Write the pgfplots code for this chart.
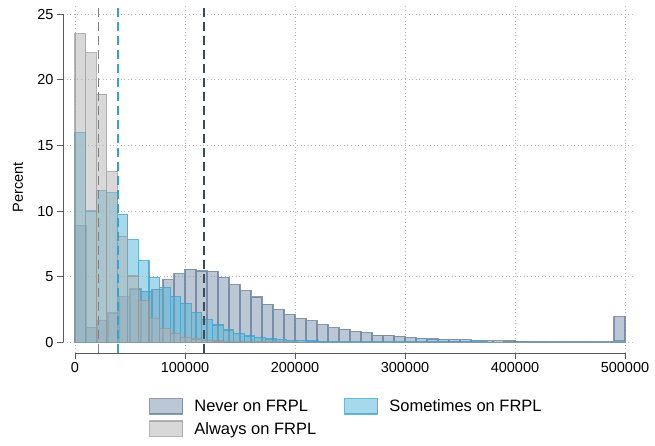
\documentclass[border=0pt]{standalone}
\usepackage{pgfplots}
\pgfplotsset{compat=1.18}
\usepackage{fontspec}
\setmainfont{Liberation Sans}
\definecolor{nevf}{RGB}{122,144,172}
\definecolor{nevd}{RGB}{100,122,150}
\definecolor{somf}{RGB}{78,180,216}
\definecolor{somd}{RGB}{55,160,205}
\definecolor{alwf}{RGB}{178,178,178}
\definecolor{alwd}{RGB}{150,150,150}
\definecolor{axc}{RGB}{90,90,90}
\begin{document}
\begin{tikzpicture}[x=1pt,y=1pt]
\useasboundingbox (0,0) rectangle (655,445);
\begin{axis}[
  at={(63pt,92pt)}, anchor=south west,
  scale only axis, width=572pt, height=349pt,
  xmin=-10909, xmax=509091, ymin=-0.815, ymax=25.77,
  axis line style={draw=none},
  xtick={0,100000,200000,300000,400000,500000},
  ytick={0,5,10,15,20,25},
  tick pos=left, tick align=outside, major tick length=6pt,
  tick style={axc, line width=0.8pt},
  grid=major, grid style={dash pattern=on 1pt off 2.6pt, black!28, line width=0.9pt},
  scaled x ticks=false,
  xticklabel style={/pgf/number format/.cd, fixed, 1000 sep={}},
  /pgf/number format/assume math mode=true,
  ticklabel style={font=\fontsize{14.5}{17}\selectfont},
  ylabel={Percent},
  ylabel style={at={(axis description cs:-0.0787,0.475)}, anchor=center, font=\fontsize{14.5}{17}\selectfont},
  clip=false,
  legend columns=2,
  legend cell align=left,
  legend style={at={(axis description cs:0.4956,-0.122)}, anchor=north, draw=none, fill=none,
    font=\fontsize{16.5}{19}\selectfont, row sep=5pt,
    /tikz/every odd column/.append style={column sep=9pt},
    /tikz/every even column/.append style={column sep=26pt}},
  legend image code/.code={\draw[#1] (0pt,-7.5pt) rectangle (33pt,8pt);},
]
\addplot[ybar interval, fill=nevf, fill opacity=0.5, draw=nevd, draw opacity=0.75, line width=1.1pt] table {
x y
0 8.9
10000 1.14
20000 1.65
30000 2.23
40000 3.47
50000 4.06
60000 3.9
70000 4.03
80000 4.75
90000 5.22
100000 5.58
110000 5.43
120000 5.4
130000 4.95
140000 4.37
150000 3.93
160000 3.45
170000 2.89
180000 2.51
190000 2.13
200000 1.83
210000 1.64
220000 1.33
230000 1.12
240000 0.99
250000 0.84
260000 0.74
270000 0.55
280000 0.55
290000 0.45
300000 0.38
310000 0.30
320000 0.25
330000 0.23
340000 0.22
350000 0.18
360000 0.15
370000 0.13
380000 0.11
390000 0.10
400000 0.09
410000 0.08
420000 0.07
430000 0.06
440000 0.06
450000 0.05
460000 0.05
470000 0.04
480000 0.04
490000 1.95
500000 1.95
};
\addlegendentry{Never on FRPL}
\addplot[ybar interval, fill=somf, fill opacity=0.5, draw=somd, draw opacity=0.75, line width=1.1pt] table {
x y
0 16.0
9615 10.0
19231 11.55
28846 11.4
38462 9.75
48077 7.8
57692 6.2
67308 4.92
76923 4.19
86538 3.48
96154 2.97
105769 2.28
115385 1.75
125000 1.32
134615 0.94
144231 0.69
153846 0.48
163462 0.38
173077 0.25
182692 0.18
192308 0.15
201923 0.12
211538 0.10
221154 0.09
230769 0.08
240385 0.07
250000 0.06
259615 0.05
269231 0.05
278846 0.04
288462 0.04
298077 0.03
307692 0.03
317308 0.03
326923 0.02
336538 0.02
346154 0.02
355769 0.02
365385 0.02
375000 0.01
384615 0.01
394231 0.01
403846 0.01
413462 0.01
423077 0.01
432692 0.01
442308 0.01
451923 0.01
461538 0.01
471154 0.01
480769 0.01
490385 0.10
500000 0.10
};
\addlegendentry{Sometimes on FRPL}
\addplot[ybar interval, fill=alwf, fill opacity=0.5, draw=alwd, draw opacity=0.7, line width=1.1pt] table {
x y
0 23.5
9615 22.05
19231 18.9
28846 13.0
38462 8.05
48077 5.05
57692 3.17
67308 1.83
76923 1.07
86538 0.69
96154 0.40
105769 0.25
115385 0.15
125000 0.10
134615 0.07
144231 0.05
153846 0.04
163462 0.03
173077 0.03
182692 0.02
192308 0.02
201923 0.01
211538 0.01
221154 0.01
230769 0.01
240385 0.01
250000 0.01
259615 0.01
269231 0.01
278846 0.01
288462 0.01
298077 0
307692 0
317308 0
326923 0
336538 0
346154 0
355769 0
365385 0
375000 0
384615 0
394231 0
403846 0
413462 0
423077 0
432692 0
442308 0
451923 0
461538 0
471154 0
480769 0
490385 0.05
500000 0.05
};
\addlegendentry{Always on FRPL}
\addplot[forget plot, color=black!50, dash pattern=on 9pt off 5pt, line width=1.3pt] coordinates {(21500,-0.815) (21500,25.77)};
\addplot[forget plot, color=somd, dash pattern=on 9pt off 5pt, line width=1.3pt] coordinates {(39000,-0.815) (39000,25.77)};
\addplot[forget plot, color=nevd!60!black, dash pattern=on 9pt off 5pt, line width=1.3pt] coordinates {(117300,-0.815) (117300,25.77)};
\draw[axc, line width=0.8pt] (axis cs:0,-0.815) -- (axis cs:500000,-0.815);
\draw[axc, line width=0.8pt] (axis cs:-10909,0) -- (axis cs:-10909,25);
\end{axis}
\end{tikzpicture}
\end{document}
